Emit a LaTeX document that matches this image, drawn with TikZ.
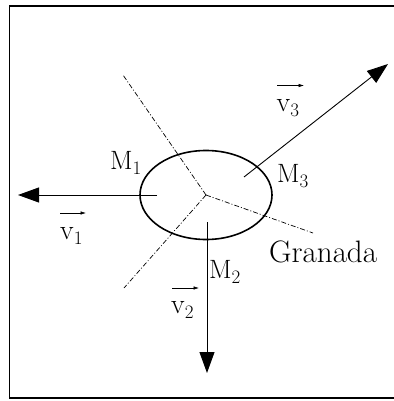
\documentclass[tikz,border=0pt]{standalone}
\usetikzlibrary{shapes.geometric,arrows.meta}
\newcommand{\sbs}[2]{#1\raisebox{-5.5pt}{\fontsize{19}{21}\selectfont #2}}
\tikzset{
  frame/.style={line width=1.6pt},
  body/.style={ellipse,draw,line width=1.6pt,minimum width=132pt,minimum height=89pt,inner sep=0pt},
  border/.style={line width=0.7pt,dash pattern=on 5pt off 2pt on 1pt off 2pt},
  vel/.style={line width=0.9pt,-{Triangle[length=21pt,width=15pt]}},
  overarr/.style={line width=0.6pt,-{Latex[length=5.5pt,width=3.5pt]}},
  lab/.style={inner sep=0pt,anchor=base west,font=\fontsize{26.5}{30}\selectfont},
  vlab/.style={inner sep=0pt,anchor=base west,font=\fontsize{28}{32}\selectfont},
  city/.style={inner sep=0pt,anchor=base west,font=\fontsize{31}{36}\selectfont}
}
\begin{document}
\begin{tikzpicture}[x=1pt,y=-1pt]
\useasboundingbox (0,0) rectangle (393,401);
\draw[frame] (9.5,6) rectangle (399,398);
\node[body] (body) at (206,195) {};
\coordinate (c) at (206,195);
\coordinate (b1) at (123,75);
\coordinate (b2) at (124,288);
\coordinate (b3) at (313,233);
\draw[border] (c) -- (b1);
\draw[border] (c) -- (b2);
\draw[border] (c) -- (b3);
\coordinate (s1) at (157,195);
\coordinate (t1) at (18,195);
\coordinate (s2) at (207,222);
\coordinate (t2) at (207,373);
\coordinate (s3) at (244,177);
\coordinate (t3) at (388,64);
\draw[vel] (s1) -- (t1);
\draw[vel] (s2) -- (t2);
\draw[vel] (s3) -- (t3);
\node[lab] (m1) at (110,169) {\sbs{M}{1}};
\node[lab] (m2) at (209,278) {\sbs{M}{2}};
\node[lab] (m3) at (277,182) {\sbs{M}{3}};
\node[city] (gr) at (269,262.5) {Granada};
\node[vlab] (v1) at (60,239) {\sbs{v}{1}};
\node[vlab] (v2) at (171,313) {\sbs{v}{2}};
\node[vlab] (v3) at (276.5,111) {\sbs{v}{3}};
\coordinate (a1s) at (60,213);
\coordinate (a1e) at (86,213);
\coordinate (a2s) at (172,288);
\coordinate (a2e) at (199,288);
\coordinate (a3s) at (277,85.5);
\coordinate (a3e) at (304,85.5);
\draw[overarr] (a1s) -- (a1e);
\draw[overarr] (a2s) -- (a2e);
\draw[overarr] (a3s) -- (a3e);
\end{tikzpicture}
\end{document}
